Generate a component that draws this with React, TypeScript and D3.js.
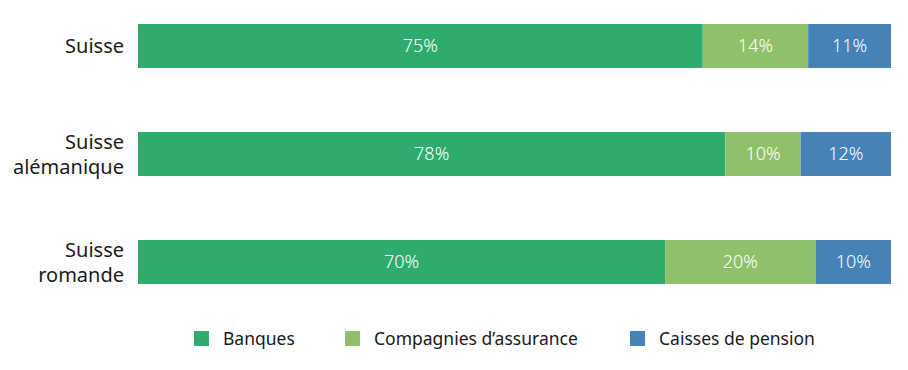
import React from 'react';
import * as d3 from 'd3';

// Régions (les retours à la ligne séparent les deux lignes de l'étiquette)
const regions = ['Suisse', 'Suisse\nalémanique', 'Suisse\nromande'];
const seriesNames = ['Banques', "Compagnies d’assurance", 'Caisses de pension'];
const banques = [75, 78, 70];
const assurances = [14, 10, 20];
const pensions = [11, 12, 10];
const colors = ['#2eac6d', '#8fc16a', '#4681b8'];

const WIDTH = 908;
const HEIGHT = 370;
const FONT = '"Noto Sans", "Open Sans", sans-serif';

const App: React.FC = () => {
  const rows = regions.map((r, i) => ({
    region: r,
    values: [banques[i], assurances[i], pensions[i]],
  }));

  const x = d3.scaleLinear().domain([0, 100]).range([138, 891]);
  const y = d3
    .scaleBand<string>()
    .domain(regions)
    .range([24, 284])
    .paddingInner(0.5926)
    .paddingOuter(0);

  // legend positions
  const legendX = [194, 345, 630];
  const legendY = 331;

  return (
    <div style={{ margin: -8 }}>
      <svg width={WIDTH} height={HEIGHT} style={{ display: 'block', fontFamily: FONT }}>
        {rows.map((row) => {
          const y0 = y(row.region) as number;
          const bw = y.bandwidth();
          let acc = 0;
          const lines = row.region.split('\n');
          return (
            <g key={row.region}>
              {row.values.map((v, j) => {
                const x0 = x(acc);
                acc += v;
                const x1 = x(acc);
                return (
                  <g key={j}>
                    <rect x={x0} y={y0} width={x1 - x0} height={bw} fill={colors[j]} />
                    <text
                      x={(x0 + x1) / 2}
                      y={y0 + bw / 2}
                      dy="0.35em"
                      textAnchor="middle"
                      fill="#ffffff"
                      fontSize={18}
                      fontWeight={300}
                    >
                      {v}%
                    </text>
                  </g>
                );
              })}
              {lines.map((line, k) => (
                <text
                  key={k}
                  x={124}
                  y={y0 + bw / 2 + (k - (lines.length - 1) / 2) * 25}
                  dy="0.35em"
                  textAnchor="end"
                  fill="#1a1a1a"
                  fontSize={20}
                >
                  {line}
                </text>
              ))}
            </g>
          );
        })}
        {seriesNames.map((name, j) => (
          <g key={name} transform={`translate(${legendX[j]},${legendY})`}>
            <rect x={0} y={0} width={15} height={15} fill={colors[j]} />
            <text x={29} y={7.5} dy="0.35em" fontSize={17.5} fill="#1a1a1a">
              {name}
            </text>
          </g>
        ))}
      </svg>
    </div>
  );
};

export default App;
